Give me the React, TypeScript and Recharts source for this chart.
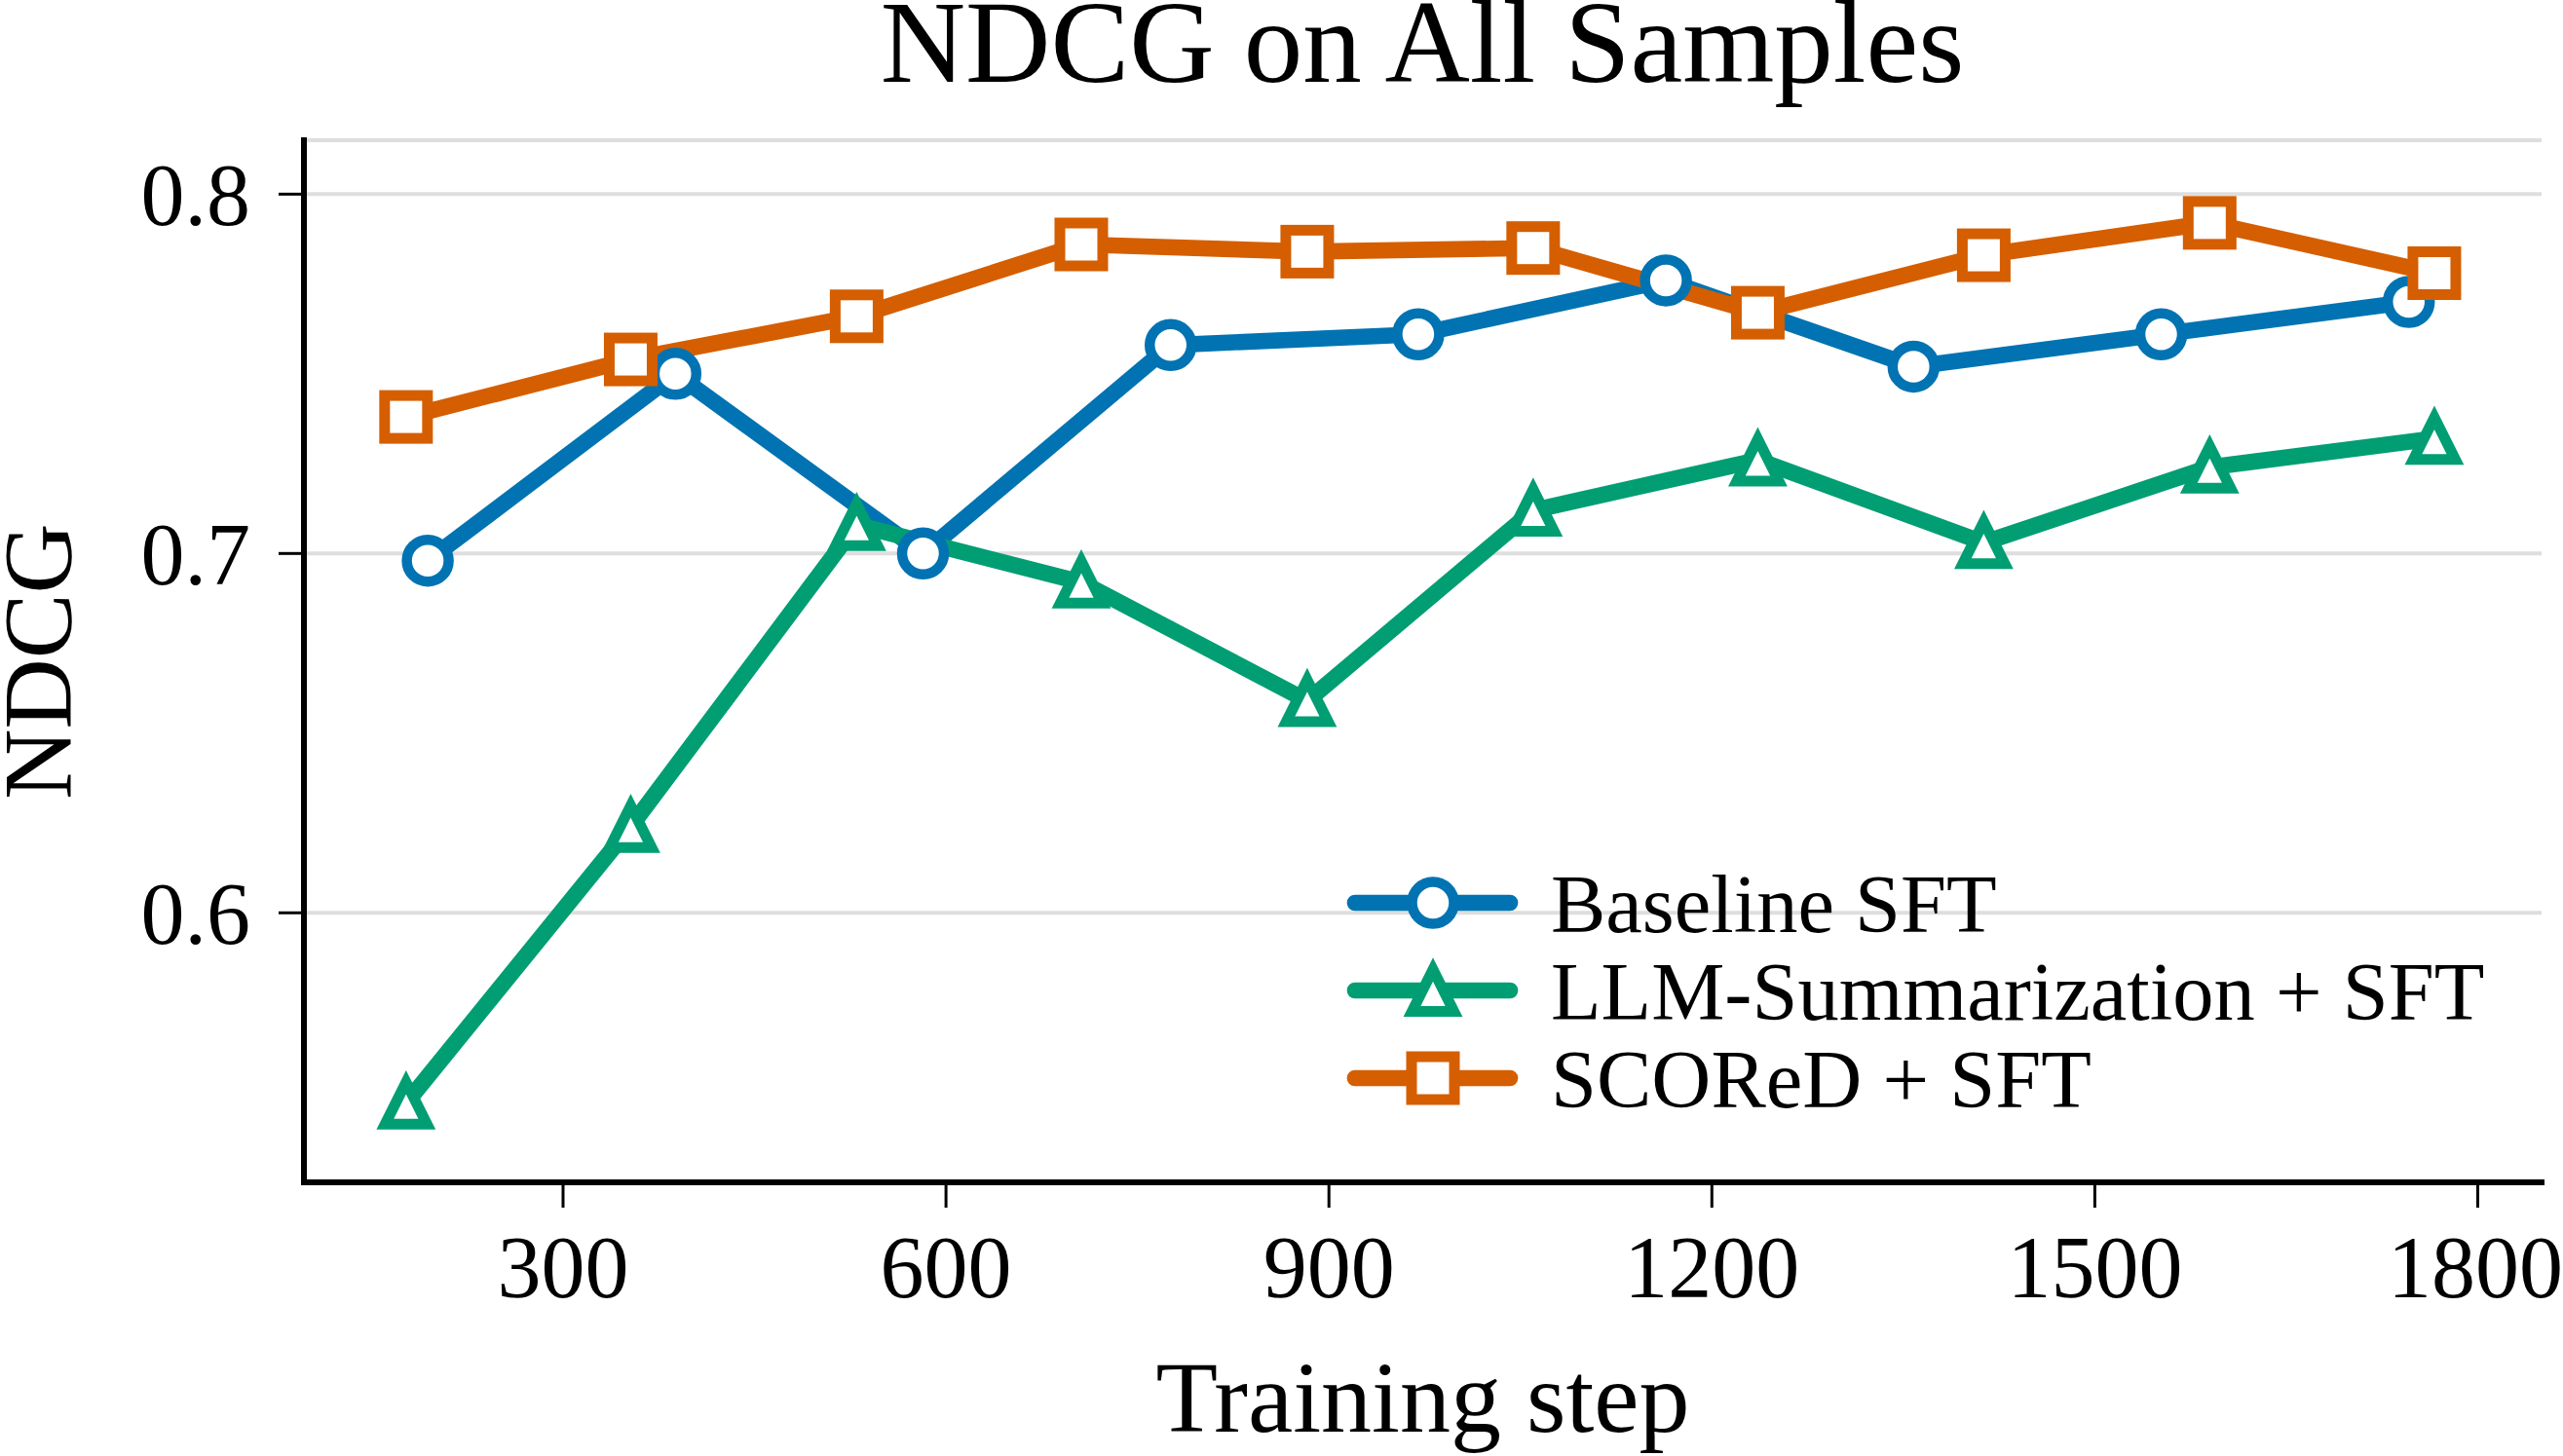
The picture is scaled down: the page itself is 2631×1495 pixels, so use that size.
import { CartesianGrid, Label, Legend, Line, LineChart, XAxis, YAxis } from "recharts"

// NDCG measured every ~194 steps for the baseline, every ~177 steps for the other two runs
const baselineSteps = [194, 388, 582, 776, 970, 1164, 1358, 1552, 1746]
const baselineNdcg = [0.698, 0.75, 0.7, 0.758, 0.761, 0.776, 0.752, 0.761, 0.77]

const steps = [177, 353, 530, 706, 883, 1060, 1236, 1413, 1590, 1766]
const llmSummNdcg = [0.547, 0.624, 0.708, 0.692, 0.659, 0.712, 0.726, 0.703, 0.724, 0.732]
const scoredNdcg = [0.738, 0.754, 0.766, 0.786, 0.784, 0.785, 0.767, 0.783, 0.792, 0.778]

const xTicks = [300, 600, 900, 1200, 1500, 1800]
const yTicks = [0.6, 0.7, 0.8]

const FONT = '"Liberation Serif", "Times New Roman", Times, serif'
const LINE_WIDTH = 16.7

type Shape = "circle" | "triangle" | "square"

const toPoints = (xs: number[], ys: number[]) => xs.map((step, i) => ({ step, ndcg: ys[i] }))

const series: { name: string; color: string; shape: Shape; data: { step: number; ndcg: number }[] }[] = [
  { name: "Baseline SFT", color: "#0173B2", shape: "circle", data: toPoints(baselineSteps, baselineNdcg) },
  { name: "LLM-Summarization + SFT", color: "#029E73", shape: "triangle", data: toPoints(steps, llmSummNdcg) },
  { name: "SCOReD + SFT", color: "#D55E00", shape: "square", data: toPoints(steps, scoredNdcg) },
]

function Marker({ shape, cx, cy, color }: { shape: Shape; cx: number; cy: number; color: string }) {
  if (shape === "circle") {
    return <circle cx={cx} cy={cy} r={21.5} fill="#fff" stroke={color} strokeWidth={10.5} />
  }
  if (shape === "square") {
    return (
      <rect x={cx - 22} y={cy - 22} width={44} height={44} fill="#fff" stroke={color} strokeWidth={11} strokeLinejoin="miter" />
    )
  }
  const s = 21.5
  return (
    <path
      d={`M${cx},${cy - s} L${cx + s},${cy + s} L${cx - s},${cy + s} Z`}
      fill="#fff"
      stroke={color}
      strokeWidth={11}
      strokeLinejoin="miter"
    />
  )
}

const renderLegend = () => (
  <svg width={1260} height={290} style={{ display: "block", overflow: "visible" }}>
    {series.map((s, i) => {
      const y = 67 + i * 90
      return (
        <g key={s.name}>
          <line x1={31} x2={190} y1={y} y2={y} stroke={s.color} strokeWidth={LINE_WIDTH} strokeLinecap="round" />
          <Marker shape={s.shape} cx={111} cy={y} color={s.color} />
          <text x={232} y={y + 30} fontSize={84.5} fill="#000" fontFamily={FONT}>
            {s.name}
          </text>
        </g>
      )
    })}
  </svg>
)

export default function App() {
  return (
    <div style={{ position: "absolute", left: 0, top: 0, width: 2631, height: 1495, background: "#fff", fontFamily: FONT }}>
      <LineChart width={2631} height={1495} margin={{ top: 144, right: 22, left: 0, bottom: 0 }}>
        <CartesianGrid horizontal vertical={false} stroke="#dedede" strokeWidth={4} />
        <XAxis
          dataKey="step"
          type="number"
          domain={[97, 1850]}
          allowDataOverflow
          ticks={xTicks}
          height={281}
          tickSize={26}
          tickMargin={28}
          tick={{ fill: "#000", fontSize: 90, fontFamily: FONT }}
          tickLine={{ stroke: "#000", strokeWidth: 3 }}
          axisLine={{ stroke: "#000", strokeWidth: 6, strokeLinecap: "square" }}
        >
          <Label
            content={({ viewBox }: any) => (
              <text
                x={viewBox.x + viewBox.width / 2}
                y={viewBox.y + viewBox.height - 25}
                textAnchor="middle"
                fontSize={104}
                fill="#000"
                fontFamily={FONT}
              >
                Training step
              </text>
            )}
          />
        </XAxis>
        <YAxis
          type="number"
          domain={[0.525, 0.815]}
          allowDataOverflow
          ticks={yTicks}
          width={312}
          tickSize={26}
          tickMargin={29}
          tickFormatter={(v: number) => v.toFixed(1)}
          tick={{ fill: "#000", fontSize: 90, fontFamily: FONT }}
          tickLine={{ stroke: "#000", strokeWidth: 3 }}
          axisLine={{ stroke: "#000", strokeWidth: 6, strokeLinecap: "square" }}
        >
          <Label
            content={({ viewBox }: any) => {
              const cx = viewBox.x + 72
              const cy = viewBox.y + viewBox.height / 2
              return (
                <text
                  transform={`translate(${cx}, ${cy}) rotate(-90)`}
                  x={0}
                  y={0}
                  textAnchor="middle"
                  fontSize={100}
                  fill="#000"
                  fontFamily={FONT}
                >
                  NDCG
                </text>
              )
            }}
          />
        </YAxis>
        <Legend
          layout="vertical"
          align="center"
          verticalAlign="middle"
          content={renderLegend}
          wrapperStyle={{ left: 1360, top: 860, width: 1260, height: 290 }}
        />
        {series.map((s) => (
          <Line
            key={s.name}
            name={s.name}
            data={s.data}
            dataKey="ndcg"
            type="linear"
            stroke={s.color}
            strokeWidth={LINE_WIDTH}
            strokeLinejoin="round"
            isAnimationActive={false}
            dot={(p: any) => <Marker key={`${s.name}-${p.index}`} shape={s.shape} cx={p.cx} cy={p.cy} color={s.color} />}
            activeDot={false}
          />
        ))}
      </LineChart>
      <svg width={2631} height={150} style={{ position: "absolute", left: 0, top: 0, pointerEvents: "none" }}>
        <text x={1460} y={84} textAnchor="middle" fontSize={121} fill="#000" fontFamily={FONT}>
          NDCG on All Samples
        </text>
      </svg>
    </div>
  )
}
